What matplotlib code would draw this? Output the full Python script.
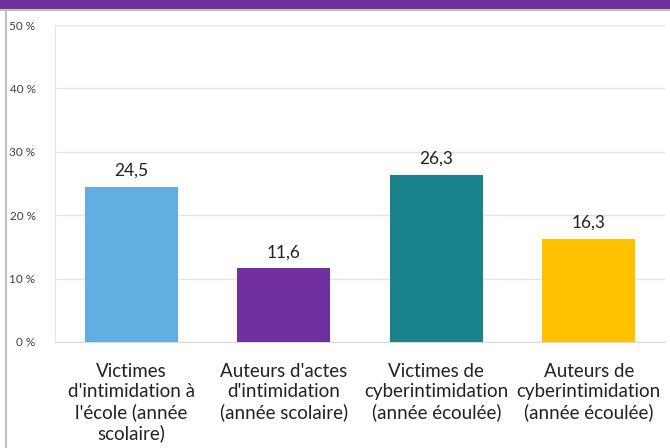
import numpy as np
import matplotlib.pyplot as plt
from matplotlib.patches import Rectangle
from matplotlib.lines import Line2D

categories = ["Victimes\nd'intimidation à\nl'école (année\nscolaire)",
              "Auteurs d'actes\nd'intimidation\n(année scolaire)",
              "Victimes de\ncyberintimidation\n(année écoulée)",
              "Auteurs de\ncyberintimidation\n(année écoulée)"]
values = [24.5, 11.6, 26.3, 16.3]
colors = ['#62AEE2', '#7030A0', '#1A828C', '#FFC000']
yticks = [0, 10, 20, 30, 40, 50]

plt.rcParams['font.family'] = ['Lato', 'DejaVu Sans']

fig = plt.figure(figsize=(6.7, 4.48), dpi=100)
W, H = 670, 448

# purple header band and grey frame
fig.patches.append(Rectangle((0, 1 - 8 / H), 1, 8 / H, transform=fig.transFigure,
                             color='#7030A0', zorder=0))
fig.lines.append(Line2D([0, 1], [1 - 10 / H, 1 - 10 / H], transform=fig.transFigure,
                        color='#BFBFBF', lw=1.5))
fig.lines.append(Line2D([6 / W, 6 / W], [0, 1 - 10 / H], transform=fig.transFigure,
                        color='#BFBFBF', lw=1.5))

ax = fig.add_axes([55 / W, 1 - 342 / H, 610 / W, 317 / H])
x = np.arange(len(values))
ax.bar(x, values, width=0.61, color=colors, zorder=3)
for xi, v in zip(x, values):
    ax.text(xi, v + 1.3, f"{v:.1f}".replace('.', ','), ha='center', va='bottom',
            fontsize=12.5, color='#222222')

ax.set_xlim(-0.5, len(values) - 0.5)
ax.set_ylim(0, 50)
ax.set_yticks(yticks)
ax.set_yticklabels([f"{t} %" for t in yticks], fontsize=8.5, color='#404040')
ax.set_xticks(x)
ax.set_xticklabels(categories, fontsize=13.5, color='#222222', linespacing=1.22)
ax.tick_params(axis='both', length=0)
ax.tick_params(axis='x', pad=15)
ax.tick_params(axis='y', pad=14)
ax.grid(axis='y', color='#E4E4E4', lw=1, zorder=0)
for s in ['top', 'right']:
    ax.spines[s].set_visible(False)
ax.spines['left'].set_color('#E4E4E4')
ax.spines['bottom'].set_color('#D9D9D9')

fig.savefig('out.png')
